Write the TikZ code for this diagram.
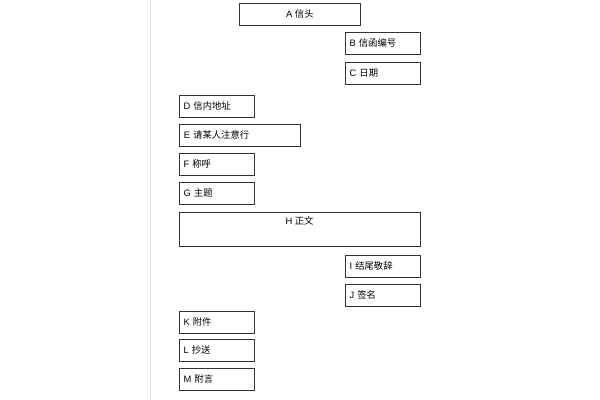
\documentclass[tikz,border=0pt]{standalone}
\usepackage{fontspec}
\setmainfont{Liberation Sans}
\newfontfamily\cjk{Noto Sans CJK SC}
\usepackage{tikz}

\begin{document}
\begin{tikzpicture}[x=0.75pt,y=0.75pt,yscale=-1,xscale=1,
  part/.style={draw=black!80, line width=0.6pt, anchor=north west, inner sep=0pt,
    font=\fontsize{7pt}{8pt}\selectfont, minimum height=16.5pt}]
\useasboundingbox (0,0) rectangle (600,400);
\draw [black!12, line width=0.75pt] (150,0) -- (150,400);

% right column parts
\node [part, minimum width=90.75pt, align=center] (A) at (239,3) {A {\cjk 信头}};
\node [part, minimum width=56.25pt, text width=50pt, align=left] (B) at (345,32) {B {\cjk 信函编号}};
\node [part, minimum width=56.25pt, text width=50pt, align=left] (C) at (345,62) {C {\cjk 日期}};
% left column parts
\node [part, minimum width=56.25pt, text width=50pt, align=left] (D) at (179,95) {D {\cjk 信内地址}};
\node [part, minimum width=90.75pt, text width=84pt, align=left] (E) at (179,124) {E {\cjk 请某人注意行}};
\node [part, minimum width=56.25pt, text width=50pt, align=left] (F) at (179,153) {F {\cjk 称呼}};
\node [part, minimum width=56.25pt, text width=50pt, align=left] (G) at (179,182) {G {\cjk 主题}};
% body
\draw [draw=black!80, line width=0.6pt] (179,212) rectangle (420,246);
\node [font=\fontsize{7pt}{8pt}\selectfont] (H) at (299.5,221) {H {\cjk 正文}};
\node [part, minimum width=56.25pt, text width=50pt, align=left] (I) at (345,255) {I {\cjk 结尾敬辞}};
\node [part, minimum width=56.25pt, text width=50pt, align=left] (J) at (345,284) {J {\cjk 签名}};
\node [part, minimum width=56.25pt, text width=50pt, align=left] (K) at (179,311) {K {\cjk 附件}};
\node [part, minimum width=56.25pt, text width=50pt, align=left] (L) at (179,339) {L {\cjk 抄送}};
\node [part, minimum width=56.25pt, text width=50pt, align=left] (M) at (179,368) {M {\cjk 附言}};

\end{tikzpicture}
\end{document}
